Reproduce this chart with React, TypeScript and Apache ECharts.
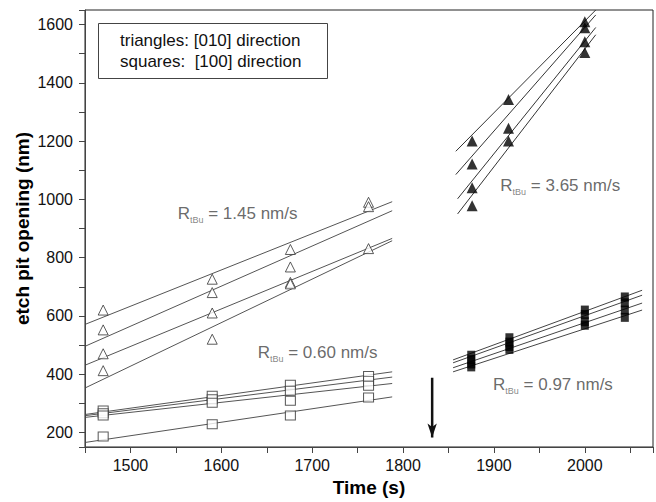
import React, { useEffect, useRef } from 'react';
import * as echarts from 'echarts';

// ---------- data (Time s, etch pit opening nm) ----------
const openTriangles: [number, number][] = [
  [1470, 620], [1470, 552], [1470, 470], [1470, 412],
  [1590, 726], [1590, 680], [1590, 610], [1590, 520],
  [1676, 828], [1676, 768], [1676, 715], [1676, 710],
  [1762, 990], [1762, 975], [1762, 831],
];
const openSquares: [number, number][] = [
  [1470, 275], [1470, 266], [1470, 258], [1470, 186],
  [1590, 326], [1590, 314], [1590, 302], [1590, 228],
  [1676, 364], [1676, 343], [1676, 309], [1676, 258],
  [1762, 394], [1762, 377], [1762, 360], [1762, 320],
];
const filledTriangles: [number, number][] = [
  [1876, 1200], [1876, 1121], [1876, 1040], [1876, 978],
  [1916, 1343], [1916, 1244], [1916, 1200],
  [2000, 1610], [2000, 1589], [2000, 1541], [2000, 1504],
];
const filledSquares: [number, number][] = [
  [1875, 465], [1875, 450], [1875, 435], [1875, 425],
  [1917, 525], [1917, 510], [1917, 495], [1917, 485],
  [2000, 620], [2000, 605], [2000, 580], [2000, 568],
  [2044, 665], [2044, 645], [2044, 620], [2044, 595],
];

// fit lines: [t0, v0, t1, v1]
const triLinesLeft: number[][] = [
  [1451, 572, 1788, 992], [1451, 497, 1788, 961],
  [1451, 432, 1788, 866], [1451, 354, 1788, 858],
];
const sqLinesLeft: number[][] = [
  [1451, 262, 1788, 408], [1451, 258, 1788, 390],
  [1451, 252, 1788, 368], [1451, 166, 1788, 322],
];
const triLinesRight: number[][] = [
  [1858, 1165, 2012, 1650], [1858, 1085, 2012, 1633],
  [1860, 1002, 2012, 1590], [1860, 950, 2012, 1565],
];
const sqLinesRight: number[][] = [
  [1855, 449, 2063, 688], [1855, 439, 2063, 671],
  [1855, 422, 2063, 644], [1855, 408, 2063, 620],
];

// arrow marking the switch
const arrowStart: [number, number] = [1832, 388];
const arrowEnd: [number, number] = [1832, 183];

// rate annotations
const rateValues = ['1.45', '3.65', '0.60', '0.97'];
const ratePos: [number, number][] = [[1552, 951], [1907, 1046], [1640, 473], [1899, 364]];

const legendLines = ['triangles: [010] direction', 'squares:  [100] direction'];

const FONT = '"Liberation Sans", Arial, sans-serif';

function lineSeries(lines: number[][], color: string) {
  return lines.map((l) => ({
    type: 'line',
    data: [[l[0], l[1]], [l[2], l[3]]],
    showSymbol: false,
    silent: true,
    lineStyle: { color, width: 1 },
    z: 2,
  }));
}

export default function App() {
  const ref = useRef<HTMLDivElement>(null);
  useEffect(() => {
    const chart = echarts.init(ref.current!, null, { renderer: 'svg' });
    const option: any = {
      animation: false,
      backgroundColor: '#fff',
      title: {
        text: legendLines.join('\n'),
        left: 98,
        top: 23,
        borderColor: '#444',
        borderWidth: 1,
        padding: [7, 26, 7, 22],
        textStyle: { fontSize: 17, fontWeight: 'normal', color: '#111', lineHeight: 21, fontFamily: FONT },
      },
      grid: {
        left: 85, top: 10, right: 1, bottom: 53,
        show: true, borderColor: '#222', borderWidth: 1, backgroundColor: 'transparent',
      },
      xAxis: {
        type: 'value', min: 1450, max: 2075, interval: 50,
        name: 'Time (s)', nameLocation: 'middle', nameGap: 31,
        nameTextStyle: { fontSize: 19, fontWeight: 'bold', color: '#000', fontFamily: FONT },
        axisLine: { lineStyle: { color: '#444', width: 1 } },
        axisTick: { inside: false, length: 6, lineStyle: { color: '#444' } },
        axisLabel: {
          margin: 10, fontSize: 16, color: '#111', fontFamily: FONT,
          formatter: (v: number) => (v % 100 === 0 ? String(v) : ''),
        },
        splitLine: { show: false },
      },
      yAxis: {
        type: 'value', min: 150, max: 1650, minInterval: 100, maxInterval: 100, splitNumber: 15,
        name: 'etch pit opening (nm)', nameLocation: 'middle', nameGap: 53,
        nameTruncate: { maxWidth: 420 },
        nameMoveOverlap: false,
        nameTextStyle: {
          fontSize: 19, fontWeight: 'bold', color: '#000', fontFamily: FONT,
          overflow: 'none', width: 420,
        },
        axisLine: { lineStyle: { color: '#444', width: 1 } },
        axisTick: { inside: false, length: 6, lineStyle: { color: '#444' } },
        axisLabel: {
          margin: 12, fontSize: 16, color: '#111', fontFamily: FONT,
          formatter: (v: number) => (v % 200 === 0 ? String(v) : ''),
        },
        splitLine: { show: false },
      },
      series: [
        ...lineSeries(triLinesLeft, '#555'),
        ...lineSeries(sqLinesLeft, '#555'),
        ...lineSeries(triLinesRight, '#333'),
        ...lineSeries(sqLinesRight, '#444'),
        {
          type: 'scatter', data: openTriangles, symbol: 'triangle', symbolSize: 10, z: 5, silent: true,
          itemStyle: { color: '#fff', borderColor: '#333', borderWidth: 1 },
        },
        {
          type: 'scatter', data: openSquares, symbol: 'rect', symbolSize: [10, 9], z: 5, silent: true,
          itemStyle: { color: '#fff', borderColor: '#333', borderWidth: 1 },
        },
        {
          type: 'scatter', data: filledTriangles, symbol: 'triangle', symbolSize: 11, z: 5, silent: true,
          itemStyle: { color: '#000' },
        },
        {
          type: 'scatter', data: filledSquares, symbol: 'rect', symbolSize: [8, 9], z: 5, silent: true,
          itemStyle: { color: '#000' },
        },
        {
          type: 'line', silent: true, z: 6,
          data: [
            { value: arrowStart, symbol: 'none' },
            { value: arrowEnd, symbol: 'arrow', symbolSize: [7, 14], symbolRotate: 180 },
          ],
          lineStyle: { color: '#111', width: 2.5 },
          itemStyle: { color: '#111' },
        },
        {
          type: 'scatter', silent: true, z: 7, symbolSize: 0,
          data: ratePos.map((p, i) => ({ value: p, name: rateValues[i] })),
          label: {
            show: true, position: [0, 0], align: 'left', verticalAlign: 'middle',
            formatter: (p: any) => `{r|R}{s|tBu}{r| = ${p.name} nm/s}`,
            rich: {
              r: { fontSize: 17, color: '#444', fontFamily: FONT },
              s: { fontSize: 9, color: '#666', fontFamily: FONT, padding: [13, 0, 0, 0] },
            },
          },
        },
      ],
    };
    chart.setOption(option);
    return () => chart.dispose();
  }, []);
  return (
    <div
      ref={ref}
      style={{ position: 'fixed', left: 0, top: 0, width: 656, height: 502, background: '#fff' }}
    />
  );
}
